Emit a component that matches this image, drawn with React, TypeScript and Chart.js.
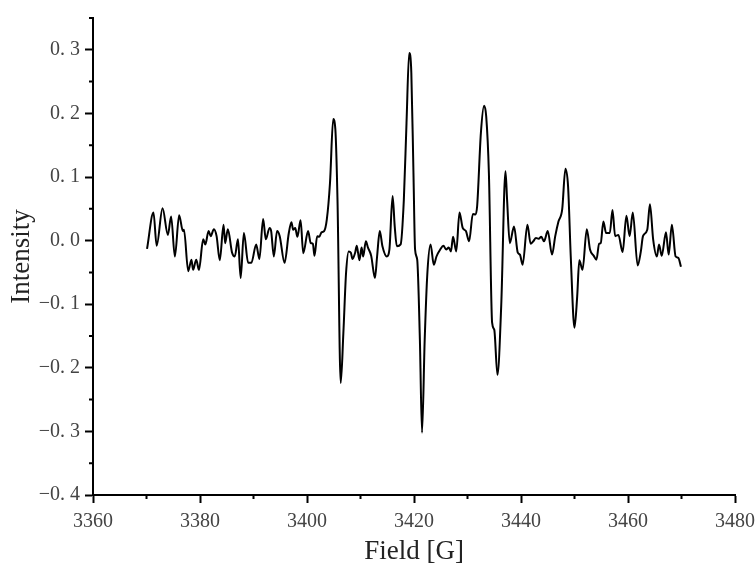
import React, { useEffect, useRef } from "react";
import { Chart, registerables } from "chart.js";

Chart.register(...registerables);

const fieldG: number[] = [
  3370.1, 3371.3, 3371.9, 3373.0, 3374.0, 3374.6, 3375.3, 3376.1, 3376.8, 3377.0,
  3377.8, 3378.4, 3378.7, 3379.3, 3379.8, 3380.6, 3381.0, 3381.6, 3382.0, 3382.6,
  3383.1, 3383.7, 3384.4, 3384.7, 3385.2, 3386.0, 3386.5, 3387.1, 3387.6, 3388.2,
  3389.0, 3389.6, 3390.5, 3391.1, 3391.8, 3392.3, 3393.0, 3393.3, 3393.8, 3394.4,
  3394.9, 3395.8, 3396.6, 3397.1, 3397.4, 3397.8, 3398.2, 3398.8, 3399.3, 3400.2,
  3400.7, 3401.1, 3401.4, 3401.9, 3402.3, 3402.7, 3403.2, 3403.7, 3404.3, 3404.9,
  3405.3, 3405.7, 3406.3, 3406.8, 3407.3, 3407.8, 3408.2, 3408.5, 3409.0, 3409.3,
  3409.8, 3410.2, 3410.5, 3411.0, 3411.4, 3412.0, 3412.7, 3413.1, 3413.6, 3414.1,
  3414.9, 3415.4, 3416.0, 3416.4, 3416.8, 3417.5, 3418.1, 3418.6, 3419.1, 3419.5,
  3419.9, 3420.2, 3420.6, 3421.1, 3421.5, 3422.0, 3422.5, 3423.1, 3423.7, 3424.2,
  3424.9, 3425.5, 3426.0, 3426.5, 3426.9, 3427.3, 3427.9, 3428.5, 3429.1, 3429.7,
  3430.3, 3431.0, 3431.5, 3431.8, 3432.5, 3433.1, 3433.5, 3434.0, 3434.6, 3435.0,
  3435.6, 3436.3, 3437.1, 3437.4, 3437.9, 3438.7, 3439.4, 3439.8, 3440.3, 3441.2,
  3441.8, 3442.3, 3442.8, 3443.3, 3443.8, 3444.3, 3445.0, 3445.8, 3446.4, 3447.0,
  3447.7, 3448.3, 3448.8, 3449.3, 3450.0, 3450.5, 3450.9, 3451.5, 3452.3, 3452.9,
  3453.6, 3454.1, 3454.6, 3454.9, 3455.4, 3455.9, 3456.6, 3457.1, 3457.6, 3458.2,
  3459.0, 3459.7, 3460.3, 3460.9, 3461.8, 3462.4, 3462.8, 3463.6, 3464.1, 3464.7,
  3465.4, 3465.8, 3466.3, 3467.1, 3467.6, 3468.2, 3468.9, 3469.4, 3469.9,
];

const intensity: number[] = [
  -0.013, 0.044, -0.008, 0.051, 0.009, 0.038, -0.025, 0.040, 0.015, 0.017,
  -0.048, -0.030, -0.046, -0.030, -0.046, 0.002, -0.006, 0.015, 0.007, 0.018,
  0.007, -0.031, 0.025, -0.004, 0.018, -0.019, -0.025, 0.002, -0.059, 0.012,
  -0.035, -0.035, -0.006, -0.029, 0.034, 0.002, 0.020, 0.015, -0.025, 0.015,
  0.007, -0.035, 0.012, 0.029, 0.017, 0.020, 0.006, 0.032, -0.020, 0.015,
  -0.004, -0.005, -0.024, 0.007, 0.006, 0.013, 0.015, 0.033, 0.091, 0.191,
  0.175, 0.064, -0.224, -0.145, -0.051, -0.017, -0.019, -0.029, -0.019, -0.008,
  -0.031, -0.011, -0.025, -0.001, -0.011, -0.024, -0.059, -0.025, 0.015, -0.009,
  -0.025, -0.014, 0.070, 0.022, -0.009, -0.006, 0.064, 0.185, 0.295, 0.264,
  0.106, -0.014, -0.030, -0.156, -0.302, -0.156, -0.051, -0.006, -0.038, -0.025,
  -0.014, -0.008, -0.014, -0.011, -0.017, 0.006, -0.017, 0.044, 0.020, 0.015,
  -0.001, 0.042, 0.041, 0.054, 0.169, 0.212, 0.195, 0.106, -0.129, -0.140,
  -0.211, -0.103, 0.109, 0.064, -0.004, 0.022, -0.019, -0.022, -0.038, 0.025,
  -0.005, -0.001, 0.004, 0.003, 0.006, -0.001, 0.015, -0.022, 0.007, 0.030,
  0.049, 0.113, 0.085, -0.025, -0.137, -0.088, -0.031, -0.046, 0.018, -0.014,
  -0.024, -0.030, -0.005, -0.004, 0.030, 0.012, 0.012, 0.048, 0.007, 0.009,
  -0.018, 0.039, 0.007, 0.044, -0.039, -0.017, 0.007, 0.017, 0.057, 0.002,
  -0.025, -0.006, -0.024, 0.013, -0.022, 0.025, -0.025, -0.027, -0.041,
];

const xMin = 3360;
const xMax = 3480;
const xStep = 20;
const yMin = -0.4;
const yMax = 0.35;
const yStep = 0.1;

const FONT = "'Liberation Serif', 'DejaVu Serif', serif";

const minorTicks = {
  id: "minorTicks",
  afterDraw(chart: any) {
    const ctx = chart.ctx;
    const xs = chart.scales.x;
    const ys = chart.scales.y;
    ctx.save();
    ctx.strokeStyle = "#000";
    ctx.lineWidth = 2;
    ctx.beginPath();
    for (let v = xMin + xStep / 2; v < xMax; v += xStep) {
      const px = xs.getPixelForValue(v);
      ctx.moveTo(px, xs.top);
      ctx.lineTo(px, xs.top + 4);
    }
    for (let i = 1; ; i += 2) {
      const v = yMin + (i * yStep) / 2;
      if (v > yMax + 1e-9) break;
      const py = ys.getPixelForValue(v);
      ctx.moveTo(ys.right, py);
      ctx.lineTo(ys.right - 4, py);
    }
    ctx.stroke();
    ctx.restore();
  },
};

export default function App() {
  const ref = useRef<HTMLCanvasElement | null>(null);
  useEffect(() => {
    if (!ref.current) return;
    const data = fieldG.map((x, i) => ({ x, y: intensity[i] }));
    const chart = new Chart(ref.current, {
      type: "line",
      data: {
        datasets: [
          {
            data,
            borderColor: "#000",
            borderWidth: 2,
            pointRadius: 0,
            fill: false,
            cubicInterpolationMode: "monotone",
          },
        ],
      },
      options: {
        animation: false,
        responsive: false,
        maintainAspectRatio: false,
        layout: { padding: { left: 0, right: 35, top: 18, bottom: 0 } },
        plugins: { legend: { display: false }, tooltip: { enabled: false } },
        scales: {
          x: {
            type: "linear",
            min: xMin,
            max: xMax,
            afterFit: (s: any) => {
              s.height = 70;
            },
            border: { display: true, color: "#000", width: 2 },
            grid: {
              drawOnChartArea: false,
              drawTicks: true,
              tickLength: 8,
              tickWidth: 2,
              tickColor: "#000",
            },
            ticks: {
              stepSize: xStep,
              color: "#444",
              padding: 7,
              maxRotation: 0,
              font: { family: FONT, size: 20 },
              callback: (v: any) => String(v),
            },
            title: {
              display: true,
              text: "Field [G]",
              color: "#222",
              padding: 0,
              font: { family: FONT, size: 27, lineHeight: 1 },
            },
          },
          y: {
            type: "linear",
            min: yMin,
            max: yMax,
            afterFit: (s: any) => {
              s.width = 93;
            },
            border: { display: true, color: "#000", width: 2 },
            grid: {
              drawOnChartArea: false,
              drawTicks: true,
              tickLength: 8,
              tickWidth: 2,
              tickColor: "#000",
            },
            ticks: {
              stepSize: yStep,
              includeBounds: false,
              color: "#444",
              padding: 5,
              font: { family: FONT, size: 20 },
              callback: (v: any) => {
                const s = Number(v).toFixed(1);
                const t = s === "-0.0" ? "0.0" : s;
                return t.replace(".", ". ").replace("-", "\u2212");
              },
            },
            title: {
              display: true,
              text: "Intensity",
              color: "#222",
              padding: { top: 6, bottom: 0 },
              font: { family: FONT, size: 27 },
            },
          },
        },
      },
      plugins: [minorTicks],
    } as any);
    return () => chart.destroy();
  }, []);
  return (
    <div style={{ position: "absolute", left: 0, top: 0, width: 756, height: 565, overflow: "hidden", background: "#fff" }}>
      <canvas ref={ref} width={770} height={565} style={{ display: "block" }} />
    </div>
  );
}
